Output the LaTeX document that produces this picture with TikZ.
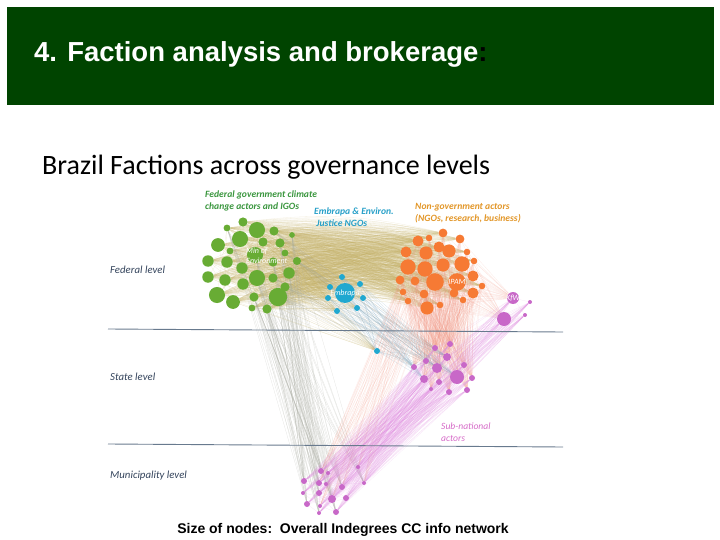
\documentclass[tikz,border=0pt]{standalone}
\usepackage{fontspec}
\setmainfont{Carlito}
\newfontfamily\arialfont{Liberation Sans}
\pgfdeclarelayer{ties}
\pgfsetlayers{ties,main}

\definecolor{banner}{RGB}{0,68,0}
\definecolor{fedgreen}{RGB}{104,172,52}
\definecolor{embblue}{RGB}{32,168,208}
\definecolor{ngoorange}{RGB}{246,122,52}
\definecolor{subpink}{RGB}{200,104,200}
\definecolor{levelgrey}{RGB}{104,122,142}
\definecolor{leveltext}{RGB}{52,68,92}
\definecolor{greenlabel}{RGB}{58,150,62}
\definecolor{bluelabel}{RGB}{40,160,200}
\definecolor{orangelabel}{RGB}{226,150,40}
\definecolor{pinklabel}{RGB}{214,108,200}
\definecolor{tantie}{RGB}{192,172,96}
\definecolor{greytie}{RGB}{168,170,160}
\definecolor{salmontie}{RGB}{238,140,120}
\definecolor{pinktie}{RGB}{222,140,222}
\definecolor{bluetie}{RGB}{130,170,196}

\tikzset{
  actor/.style={circle, inner sep=0pt, draw=none},
  gnode/.style={actor, fill=fedgreen},
  bnode/.style={actor, fill=embblue},
  onode/.style={actor, fill=ngoorange},
  pnode/.style={actor, fill=subpink},
  tie/.style={line width=0.3pt},
  tantie/.style={tie, draw=tantie, opacity=0.2},
  greytie/.style={tie, draw=greytie, opacity=0.3},
  salmontie/.style={tie, draw=salmontie, opacity=0.18},
  pinktie/.style={tie, draw=pinktie, opacity=0.2},
  bluetie/.style={tie, draw=bluetie, opacity=0.3},
  levelline/.style={draw=levelgrey, line width=0.9pt},
  levellabel/.style={anchor=base west, inner sep=0pt, text=leveltext, font=\fontsize{10.8}{12}\selectfont\itshape},
  grouplabel/.style={anchor=west, align=left, inner sep=0pt, font=\fontsize{9.6}{12}\selectfont\bfseries\itshape},
  actorlabel/.style={text=white, font=\fontsize{8}{9.5}\selectfont\itshape, inner sep=0pt},
}

\begin{document}
\begin{tikzpicture}[x=1pt, y=-1pt]
  \useasboundingbox (0,0) rectangle (720,540);
  % title banner
  \fill[banner] (7,7) rectangle (714,105);
  \node[anchor=base west, inner sep=0pt, text=white, font=\arialfont\bfseries\fontsize{27.5}{32}\selectfont]
    (title) at (34,62) {4. Faction analysis and brokerage\textcolor{black}{:}};
  \node[anchor=base west, inner sep=0pt, font=\fontsize{28}{32}\selectfont]
    (subtitle) at (42,175) {Brazil Factions across governance levels};

  % governance levels
  \coordinate (fedL) at (108,329);
  \coordinate (fedR) at (563,332);
  \coordinate (staL) at (108,444);
  \coordinate (staR) at (563,447);
  \draw[levelline] (fedL) -- (fedR);
  \draw[levelline] (staL) -- (staR);
  \node[levellabel] (fedlevel) at (110,273) {Federal level};
  \node[levellabel] (statelevel) at (110,380) {State level};
  \node[levellabel] (munilevel) at (110,478) {Municipality level};

  % federal government actors
  \foreach \x/\y/\r [count=\i] in {243/222/4, 227/228/3, 257/230/7, 274/231/4, 292/235/2.5,
      240/239/7, 263/242/4, 218/245/6, 280/243/4, 285/253/3, 255/255/7, 208/261/5,
      227/262/5, 273/262/4, 297/261/3.5, 242/268/5, 289/273/5, 208/277/5, 225/280/5,
      257/278/7, 273/278/4, 243/284/5, 285/287/4, 217/295/7, 233/302/6, 254/297/4,
      278/297/8, 252/308/3, 267/309/4, 230/251/3}
    \node[gnode, minimum size=\r*2.3pt] (g\i) at (\x,\y) {};
  % Embrapa group
  \foreach \x/\y/\r [count=\i] in {345/293/10, 342/277/3, 330/287/3, 360/284/3, 328/298/3,
      363/298/3, 357/308/3, 337/311/3, 377/351/3}
    \node[bnode, minimum size=\r*2pt] (b\i) at (\x,\y) {};
  % non-government actors
  \foreach \x/\y/\r [count=\i] in {443/233/4, 418/241/5, 429/238/3, 460/239/4, 406/252/5,
      426/253/6, 439/247/5, 449/251/6, 467/252/3, 408/267/7, 425/269/7, 443/265/6,
      462/264/7, 474/261/3, 400/280/4, 415/281/4, 435/282/8, 457/282/8, 473/276/5,
      482/286/3, 424/294/4, 454/293/4, 473/293/5, 403/292/3, 408/301/3, 440/305/3,
      427/308/6, 463/300/3}
    \node[onode, minimum size=\r*2.2pt] (o\i) at (\x,\y) {};
  % KfW and partners
  \foreach \x/\y/\r [count=\i] in {513/298/6, 530/302/2, 504/319/7, 525/315/2}
    \node[pnode, minimum size=\r*2pt] (k\i) at (\x,\y) {};
  % state actors
  \foreach \x/\y/\r [count=\i] in {435/348/3, 450/344/3, 447/357/4, 426/361/3, 437/368/5,
      464/365/3, 457/377/7, 424/379/4, 439/382/3, 472/378/3, 414/367/3, 431/389/2,
      449/392/3, 467/390/3}
    \node[pnode, minimum size=\r*2pt] (p\i) at (\x,\y) {};
  % municipal actors
  \foreach \x/\y/\r [count=\i] in {321/471/3, 328/473/2, 304/481/3, 319/483/3, 326/484/2,
      342/487/3, 303/493/2, 319/493/3, 332/499/4, 346/498/3, 307/504/3, 320/506/2,
      319/513/2, 336/512/3, 358/467/2, 364/483/2}
    \node[pnode, minimum size=\r*2pt] (m\i) at (\x,\y) {};

  % ties, behind the actors
  \begin{pgfonlayer}{ties}
    \foreach \i in {1,...,30}
      \foreach \j in {1,...,28}
        \draw[tantie] (g\i) to[bend left=10] (o\j);
    \foreach \i in {1,...,30}
      \foreach \k in {3,8,13} {
        \pgfmathtruncatemacro\j{mod(\i+\k-1,30)+1}
        \draw[tantie] (g\i) -- (g\j);
      }
    \foreach \i in {1,...,30}
      \foreach \j in {1,...,9}
        \draw[tantie] (g\i) -- (b\j);
    \foreach \i in {2,5,9,11,14,17,20,23,26,27,29}
      \foreach \j in {1,3,4,6,8,9,11,13,14,16}
        \draw[greytie] (g\i) -- (m\j);
    \foreach \i in {4,10,15,21,23,27}
      \foreach \j in {1,3,5,7,11}
        \draw[greytie] (g\i) -- (p\j);
    \foreach \i in {1,...,28}
      \foreach \j in {1,...,14}
        \draw[salmontie] (o\i) -- (p\j);
    \foreach \i in {2,6,10,11,15,17,21,24,27}
      \foreach \j in {1,4,6,9,12,15,16}
        \draw[salmontie] (o\i) -- (m\j);
    \foreach \i in {1,...,28}
      \foreach \j in {1,3}
        \draw[salmontie] (o\i) -- (k\j);
    \foreach \i in {1,...,14}
      \foreach \j in {1,...,16}
        \draw[pinktie] (p\i) -- (m\j);
    \foreach \i in {1,...,4}
      \foreach \j in {1,3,5,7,9,11,13}
        \draw[pinktie] (k\i) -- (p\j);
    \foreach \i in {1,...,4}
      \foreach \j in {1,...,16}
        \draw[pinktie] (k\i) -- (m\j);
    \foreach \i in {1,...,16}
      \foreach \k in {2,5} {
        \pgfmathtruncatemacro\j{mod(\i+\k-1,16)+1}
        \draw[pinktie] (m\i) -- (m\j);
      }
    \foreach \i in {1,...,9}
      \foreach \j in {3,5,7,8,11}
        \draw[bluetie] (b\i) -- (p\j);
    \foreach \i in {1,...,8}
      \draw[bluetie] (b1) -- (b\i) (b\i) -- (b9);
    \draw[pinktie] (k1) -- (k2) (k1) -- (k4) (k3) -- (k2) (k3) -- (k4);
  \end{pgfonlayer}

  % actor names
  \node[actorlabel, anchor=west, align=left] (minenv) at (246,256) {Min of\\Environment};
  \node[actorlabel] (embrapa) at (b1) {Embrapa};
  \node[actorlabel] (ipam) at (o18) {IPAM};
  \node[actorlabel] (kfw) at (k1) {KfW};

  % faction names
  \node[grouplabel, text=greenlabel] (fedgov) at (205,201)
    {Federal government climate\\change actors and IGOs};
  \node[grouplabel, text=bluelabel] (embgroup) at (314,217)
    {Embrapa \& Environ.\\\ Justice NGOs};
  \node[grouplabel, text=orangelabel] (nongov) at (415,213)
    {Non-government actors\\(NGOs, research, business)};
  \node[grouplabel, text=pinklabel, font=\fontsize{9.6}{12}\selectfont\itshape] (subnat) at (441,432)
    {Sub-national\\actors};

  % caption
  \node[inner sep=0pt, font=\arialfont\bfseries\fontsize{14}{16}\selectfont]
    (caption) at (343,530) {Size of nodes:\ \ Overall Indegrees CC info network};
\end{tikzpicture}
\end{document}
